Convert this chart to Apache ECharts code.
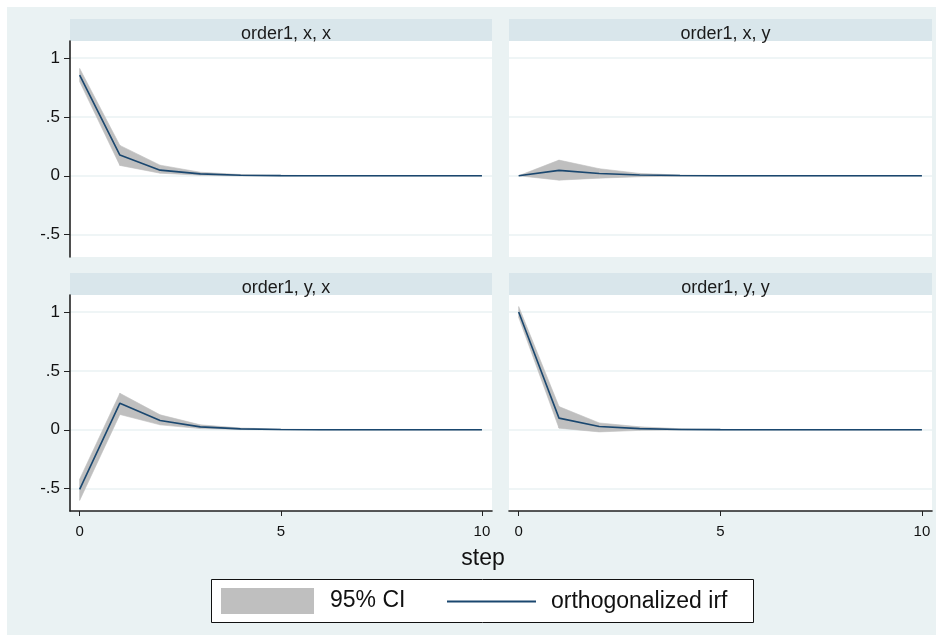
<!DOCTYPE html>
<html>
<head>
<meta charset="utf-8">
<script src="https://cdn.jsdelivr.net/npm/echarts@6/dist/echarts.min.js"></script>
<style>
html,body{margin:0;padding:0;background:#fff;}
#wrap{position:relative;width:936px;height:635px;}
#bg{position:absolute;left:7px;top:7px;width:929px;height:628px;background:#EAF2F3;}
#chart{position:absolute;left:0;top:0;width:936px;height:635px;}
</style>
</head>
<body>
<div id="wrap"><div id="bg"></div><div id="chart"></div></div>
<script>
// ---- data ----
const steps = [0, 1, 2, 3, 4, 5, 6, 7, 8, 9, 10];
const panelTitles = ['order1, x, x', 'order1, x, y', 'order1, y, x', 'order1, y, y'];
const yTicks = [-0.5, 0, 0.5, 1];
const yTickLabels = ['-.5', '0', '.5', '1'];
const xTicks = [0, 5, 10];
const xTickLabels = ['0', '5', '10'];

const irf_xx = [0.855, 0.176, 0.048, 0.016, 0.005, 0.0016, 0.0005, 0.0002, 0.0001, 0, 0];
const lo_xx  = [0.800, 0.088, 0.022, 0.004, -0.001, -0.0006, -0.0002, -0.0001, 0, 0, 0];
const hi_xx  = [0.912, 0.258, 0.090, 0.030, 0.011, 0.004, 0.0012, 0.0004, 0.0001, 0, 0];

const irf_xy = [0, 0.046, 0.020, 0.006, 0.002, 0.0006, 0.0002, 0.0001, 0, 0, 0];
const lo_xy  = [0, -0.037, -0.020, -0.008, -0.003, -0.001, -0.0003, -0.0001, 0, 0, 0];
const hi_xy  = [0, 0.133, 0.060, 0.020, 0.006, 0.002, 0.0007, 0.0002, 0.0001, 0, 0];

const irf_yx = [-0.507, 0.226, 0.079, 0.025, 0.008, 0.0025, 0.0008, 0.0003, 0.0001, 0, 0];
const lo_yx  = [-0.600, 0.130, 0.042, 0.010, 0.002, 0.0003, 0, 0, 0, 0, 0];
const hi_yx  = [-0.420, 0.310, 0.127, 0.042, 0.015, 0.005, 0.0016, 0.0005, 0.0002, 0, 0];

const irf_yy = [1.000, 0.099, 0.028, 0.010, 0.003, 0.001, 0.0003, 0.0001, 0, 0, 0];
const lo_yy  = [0.955, 0.014, -0.018, -0.005, -0.002, -0.0006, -0.0002, 0, 0, 0, 0];
const hi_yy  = [1.047, 0.197, 0.058, 0.025, 0.009, 0.003, 0.001, 0.0003, 0.0001, 0, 0];

const irfs = [irf_xx, irf_xy, irf_yx, irf_yy];
const los = [lo_xx, lo_xy, lo_yx, lo_yy];
const his = [hi_xx, hi_xy, hi_yx, hi_yy];

// ---- layout ----
const BG = '#EAF2F3', HEAD = '#D9E6EB', LINE = '#1A476F', CI = '#BFBFBF';
const FONT = '"Liberation Sans", Arial, sans-serif';
const grids = [
  {left: 70, top: 41, width: 422, height: 216},
  {left: 509, top: 41, width: 423, height: 216},
  {left: 70, top: 295, width: 422, height: 216},
  {left: 509, top: 295, width: 423, height: 216}
];

const chart = echarts.init(document.getElementById('chart'), null, {renderer: 'canvas'});

const gridOpts = grids.map(g => Object.assign({}, g, {show: true, backgroundColor: '#fff', borderWidth: 0}));

const xAxes = grids.map((g, i) => {
  const bottom = i >= 2;
  return {
    type: 'value', gridIndex: i, min: -0.24, max: 10.25,
    axisLine: {show: bottom, onZero: false, lineStyle: {color: '#222', width: 1.6}},
    axisTick: {show: bottom, length: 5, customValues: xTicks, lineStyle: {color: '#222'}},
    axisLabel: {show: bottom, customValues: xTicks, margin: 13, fontFamily: FONT, fontSize: 15, color: '#111',
      formatter: v => xTickLabels[xTicks.indexOf(v)] ?? ''},
    splitLine: {show: false}
  };
});

const yAxes = grids.map((g, i) => {
  const leftCol = (i % 2 === 0);
  return {
    type: 'value', gridIndex: i, min: -0.69, max: 1.145,
    axisLine: {show: leftCol, onZero: false, lineStyle: {color: '#222', width: 1.6}},
    axisTick: {show: leftCol, length: 6, customValues: yTicks, lineStyle: {color: '#222'}},
    axisLabel: {show: leftCol, customValues: yTicks, margin: 10, fontFamily: FONT, fontSize: 17, color: '#111',
      formatter: v => yTickLabels[yTicks.indexOf(v)] ?? ''},
    splitLine: {show: true, lineStyle: {color: BG, width: 1.5}}
  };
});

function bandItem(params, api) {
  const n = steps.length;
  if (params.dataIndex >= n - 1) return null;
  const p1 = api.coord([api.value(0), api.value(1)]);
  const p2 = api.coord([api.value(3), api.value(4)]);
  const p3 = api.coord([api.value(3), api.value(5)]);
  const p4 = api.coord([api.value(0), api.value(2)]);
  return {
    type: 'polygon',
    shape: {points: [p1, p2, p3, p4]},
    style: {fill: CI, stroke: CI, lineWidth: 0.6}
  };
}

const series = [];
for (let i = 0; i < 4; i++) {
  const lo = los[i], hi = his[i], irf = irfs[i];
  const rows = steps.map((s, k) => {
    const j = Math.min(k + 1, steps.length - 1);
    return [s, lo[k], hi[k], steps[j], lo[j], hi[j]];
  });
  series.push({
    type: 'custom', name: '95% CI', xAxisIndex: i, yAxisIndex: i,
    renderItem: bandItem, silent: true, clip: true,
    itemStyle: {color: CI},
    encode: {x: [0, 3], y: [1, 2, 4, 5]},
    data: rows, z: 2
  });
  series.push({
    type: 'line', name: 'orthogonalized irf', xAxisIndex: i, yAxisIndex: i,
    symbol: 'none', silent: true, itemStyle: {color: LINE},
    lineStyle: {color: LINE, width: 1.6}, data: steps.map((s, k) => [s, irf[k]]), z: 3
  });
}

const titles = grids.map((g, i) => ({
  text: panelTitles[i], left: g.left + g.width / 2, top: g.top - 21, textAlign: 'center',
  textStyle: {fontFamily: FONT, fontSize: 18, fontWeight: 'normal', color: '#1a1a1a'}
}));

const graphics = grids.map(g => ({
  type: 'rect', shape: {x: g.left, y: g.top - 22, width: g.width, height: 22},
  style: {fill: HEAD}, z: 0, silent: true
}));
graphics.push({
  type: 'text', x: 483, y: 559, style: {text: 'step', font: '23px ' + FONT, fill: '#111', align: 'center', verticalAlign: 'middle'}, z: 1
});
graphics.push({
  type: 'rect', shape: {x: 211.5, y: 579.5, width: 542, height: 43},
  style: {fill: '#fff', stroke: '#111', lineWidth: 1}, z: 0, silent: true
});

chart.setOption({
  animation: false,
  backgroundColor: 'transparent',
  title: titles,
  grid: gridOpts,
  xAxis: xAxes,
  yAxis: yAxes,
  legend: [
    {data: [{name: '95% CI', icon: 'rect', itemStyle: {color: CI}}], left: 221, top: 588, padding: 0,
     itemWidth: 93, itemHeight: 26, selectedMode: false,
     textStyle: {fontFamily: FONT, fontSize: 23, color: '#111', padding: [3, 0, 0, 11]}},
    {data: [{name: 'orthogonalized irf', icon: 'rect', itemStyle: {color: LINE}}], left: 447, top: 590, padding: 0,
     itemWidth: 89, itemHeight: 2, selectedMode: false,
     textStyle: {fontFamily: FONT, fontSize: 23, color: '#111', padding: [0, 0, 0, 10]}}
  ],
  graphic: graphics,
  series: series
});
</script>
</body>
</html>
